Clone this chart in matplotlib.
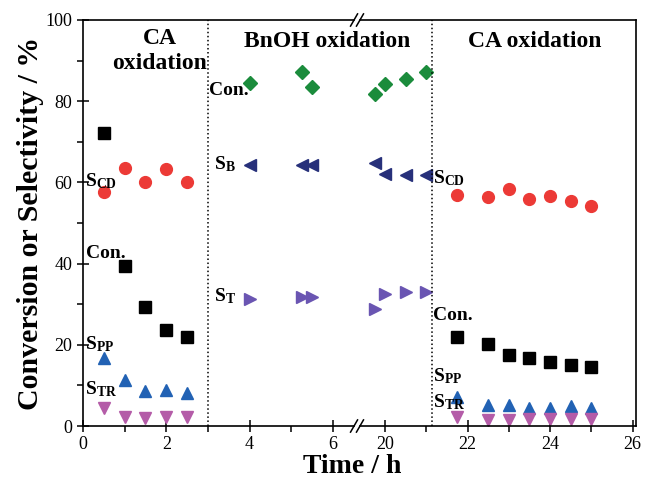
import matplotlib
matplotlib.use('Agg')
import matplotlib.pyplot as plt

plt.rcParams['font.family'] = 'Liberation Serif'
plt.rcParams['mathtext.fontset'] = 'custom'
plt.rcParams['mathtext.rm'] = 'Liberation Serif:bold'
plt.rcParams['mathtext.bf'] = 'Liberation Serif:bold'
plt.rcParams['mathtext.it'] = 'Liberation Serif:bold'

# CA oxidation (first run)
ca1_time = [0.5, 1.0, 1.5, 2.0, 2.5]
ca1_con = [72.2, 39.4, 29.3, 23.6, 22.0]
ca1_scd = [57.7, 63.5, 60.2, 63.3, 60.2]
ca1_spp = [16.7, 11.3, 8.7, 8.9, 8.2]
ca1_str = [4.4, 2.1, 2.0, 2.3, 2.3]

# BnOH oxidation
bn_time = [4.0, 5.25, 5.5, 19.75, 20.0, 20.5, 21.0]
bn_con = [84.4, 87.1, 83.6, 81.8, 84.2, 85.4, 87.2]
bn_sb = [64.3, 64.3, 64.3, 64.7, 62.1, 61.8, 61.9]
bn_st = [31.4, 31.7, 31.7, 28.8, 32.5, 33.1, 32.9]

# CA oxidation (second run)
ca2_time = [21.75, 22.5, 23.0, 23.5, 24.0, 24.5, 25.0]
ca2_con = [22.0, 20.1, 17.5, 16.7, 15.8, 15.0, 14.6]
ca2_scd = [57.0, 56.3, 58.3, 56.0, 56.6, 55.3, 54.2]
ca2_spp = [7.2, 5.2, 5.2, 4.5, 4.5, 5.0, 4.4]
ca2_str = [2.3, 1.6, 1.6, 1.7, 1.7, 1.8, 1.8]

c_con = 'black'
c_scd = '#ec3a36'
c_spp = '#2262b4'
c_str = '#b45ca8'
c_bcon = '#1b8c3c'
c_sb = '#27307a'
c_st = '#6a55b2'
ms = 8.5

fig = plt.figure(figsize=(6.45, 4.83), dpi=100)
ax1 = fig.add_axes([0.1287, 0.118, 0.4202, 0.8406])
ax2 = fig.add_axes([0.5581, 0.118, 0.4279, 0.8406])
ax2.patch.set_visible(False)

for ax in (ax1, ax2):
    ax.plot(ca1_time, ca1_con, 's', color=c_con, ms=ms - 0.5, ls='none')
    ax.plot(ca1_time, ca1_scd, 'o', color=c_scd, ms=ms, ls='none')
    ax.plot(ca1_time, ca1_spp, '^', color=c_spp, ms=ms + 0.5, ls='none')
    ax.plot(ca1_time, ca1_str, 'v', color=c_str, ms=ms + 0.5, ls='none')
    ax.plot(bn_time, bn_con, 'D', color=c_bcon, ms=ms - 1, ls='none')
    ax.plot(bn_time, bn_sb, '<', color=c_sb, ms=ms + 0.5, ls='none')
    ax.plot(bn_time, bn_st, '>', color=c_st, ms=ms + 0.5, ls='none')
    ax.plot(ca2_time, ca2_con, 's', color=c_con, ms=ms - 0.5, ls='none')
    ax.plot(ca2_time, ca2_scd, 'o', color=c_scd, ms=ms, ls='none')
    ax.plot(ca2_time, ca2_spp, '^', color=c_spp, ms=ms + 0.5, ls='none')
    ax.plot(ca2_time, ca2_str, 'v', color=c_str, ms=ms + 0.5, ls='none')
    ax.set_ylim(0, 100)
    for s in ax.spines.values():
        s.set_linewidth(1.2)
    ax.tick_params(which='major', direction='inout', length=8, width=1.1, labelsize=13)
    ax.tick_params(which='minor', direction='out', length=4, width=1.1)

ax1.set_xlim(0, 6.51)
ax2.set_xlim(19.395, 26.08)
ax1.set_xticks([0, 2, 4, 6])
ax1.set_xticks([1, 3, 5], minor=True)
ax2.set_xticks([20, 22, 24, 26])
ax2.set_xticks([21, 23, 25], minor=True)
ax1.set_yticks([0, 20, 40, 60, 80, 100])
ax1.set_yticks([10, 30, 50, 70, 90], minor=True)
ax2.tick_params(axis='y', which='both', left=False, labelleft=False)
ax1.spines['right'].set_visible(False)
ax2.spines['left'].set_visible(False)

ax1.axvline(3, color='black', ls=':', lw=1.1)
ax2.axvline(21.13, color='black', ls=':', lw=1.1)

# break marks
for ax, xb, hw in ((ax1, 1.0, 0.0129), (ax2, 0.0, 0.0127)):
    for yb in (0, 1):
        ax.plot([xb - hw, xb + hw], [yb - 0.015, yb + 0.015], color='black',
                lw=1.1, transform=ax.transAxes, clip_on=False)

bold = dict(fontweight='bold', color='black')
ax1.text(1.85, 95.5, 'CA', ha='center', va='center', fontsize=17, **bold)
ax1.text(1.85, 89.3, 'oxidation', ha='center', va='center', fontsize=17, **bold)
ax1.text(5.87, 94.6, 'BnOH oxidation', ha='center', va='center', fontsize=17,
         clip_on=False, **bold)
ax2.text(23.63, 94.6, 'CA oxidation', ha='center', va='center', fontsize=17, **bold)

lab = dict(fontsize=14, va='center', ha='left')
ax1.text(0.08, 42.6, 'Con.', fontweight='bold', **lab)
ax1.text(0.05, 60.3, r'$\mathbf{S_{CD}}$', **lab)
ax1.text(0.05, 20.2, r'$\mathbf{S_{PP}}$', **lab)
ax1.text(0.05, 9.0, r'$\mathbf{S_{TR}}$', **lab)
ax1.text(3.03, 82.6, 'Con.', fontweight='bold', **lab)
ax1.text(3.15, 64.5, r'$\mathbf{S_{B}}$', **lab)
ax1.text(3.15, 32.0, r'$\mathbf{S_{T}}$', **lab)
ax2.text(21.16, 61.0, r'$\mathbf{S_{CD}}$', **lab)
ax2.text(21.16, 27.3, 'Con.', fontweight='bold', **lab)
ax2.text(21.16, 12.3, r'$\mathbf{S_{PP}}$', **lab)
ax2.text(21.16, 5.8, r'$\mathbf{S_{TR}}$', **lab)

ax1.set_ylabel('Conversion or Selectivity / %', fontsize=21.5, fontweight='bold', labelpad=1)
fig.text(0.546, 0.035, 'Time / h', ha='center', va='center', fontsize=20, fontweight='bold')

fig.savefig('out.png', dpi=100)
